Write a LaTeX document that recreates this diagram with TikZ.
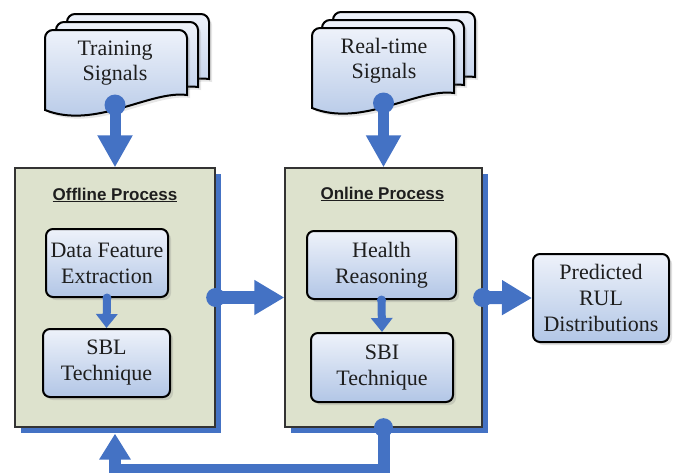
\documentclass[tikz,border=0pt]{standalone}
\usepackage{fontspec}
\setmainfont{Liberation Serif}
\newfontfamily\hdfont{Liberation Sans}
\usetikzlibrary{arrows.meta,shadows}
\definecolor{arrblue}{RGB}{68,114,196}
\definecolor{procfill}{RGB}{221,226,205}
\definecolor{boxtop}{RGB}{238,242,250}
\definecolor{boxbot}{RGB}{178,198,230}
\definecolor{txt}{RGB}{30,30,30}
\tikzset{
  proc/.style={draw=black!80, line width=1.3pt, fill=procfill,
    general shadow={fill=arrblue, shadow xshift=6pt, shadow yshift=-6pt}},
  ibox/.style={draw=black, line width=2pt, rounded corners=7pt,
    top color=boxtop, bottom color=boxbot,
    drop shadow={opacity=0.25, shadow xshift=3pt, shadow yshift=-3pt},
    align=center, text=txt, font=\fontsize{22}{26}\selectfont, inner sep=0pt},
  doctext/.style={align=center, text=txt, font=\fontsize{22}{25}\selectfont, inner sep=0pt},
  title/.style={text=txt, font=\hdfont\bfseries\fontsize{17}{20}\selectfont},
  docpath/.style={draw=black, line width=2pt, top color=boxtop, bottom color=boxbot,
    drop shadow={opacity=0.2, shadow xshift=3pt, shadow yshift=-3pt}},
  bigarrow/.style={draw=arrblue, line width=13pt, -{Triangle[length=30pt,width=33pt]}},
  smallarrow/.style={draw=arrblue, line width=8pt, -{Triangle[length=14pt,width=21pt]}},
  doc/.pic={
    \path[docpath] (0,80) -- (0,8) .. controls (0,3.6) and (3.6,0) .. (8,0)
      -- (134,0) .. controls (138.4,0) and (142,3.6) .. (142,8)
      -- (142,65) .. controls (105,60) and (50,100) .. (0,80) -- cycle;
  }
}
\begin{document}
\begin{tikzpicture}[x=1pt,y=-1pt]
\useasboundingbox (0,0) rectangle (674,472);

% documents
\pic at (67,14) {doc};
\pic at (56,22) {doc};
\pic at (45,30) {doc};
\pic at (333,12) {doc};
\pic at (322,20) {doc};
\pic at (312,28) {doc};
\node[doctext] (train) at (115,63) {Training\\Signals};
\node[doctext] (rt) at (384,61) {Real-time\\Signals};
\coordinate (trainout) at (115,105);
\coordinate (rtout) at (383.5,103);

% process boxes
\node[proc, minimum width=200pt, minimum height=259pt, inner sep=0pt] (off) at (115,297.5) {};
\node[proc, minimum width=197pt, minimum height=259pt, inner sep=0pt] (on) at (383.5,297.5) {};
\node[title] (offt) at (115,195) {\underline{Offline Process}};
\node[title] (ont) at (382.5,194) {\underline{Online Process}};

% inner boxes
\node[ibox, minimum width=122pt, minimum height=68pt] (dfe) at (107,263) {Data Feature\\Extraction};
\node[ibox, minimum width=127pt, minimum height=68pt] (sbl) at (106.5,363) {SBL\\Technique};
\node[ibox, minimum width=149pt, minimum height=68pt] (hr) at (381.5,265) {Health\\Reasoning};
\node[ibox, minimum width=142pt, minimum height=69pt] (sbi) at (382,367.5) {SBI\\Technique};
\node[ibox, minimum width=136pt, minimum height=88pt] (pred) at (601,298) {Predicted\\RUL\\Distributions};

% arrows
\fill[arrblue] (trainout) circle (10.5);
\draw[draw=arrblue, line width=11pt, -{Triangle[length=32pt,width=33pt]}] (trainout) -- (off.north);
\fill[arrblue] (rtout) circle (10.5);
\draw[draw=arrblue, line width=11pt, -{Triangle[length=32pt,width=33pt]}] (rtout) -- (on.north);

\fill[arrblue] (off.east) circle (9.5);
\draw[bigarrow] (off.east) -- (on.west);
\fill[arrblue] (on.east) circle (9.5);
\draw[bigarrow] (on.east) -- (pred.west);

\fill[arrblue] (dfe.south) circle (4.5);
\draw[smallarrow] (dfe.south) -- (sbl.north);
\fill[arrblue] (hr.south) circle (4.5);
\draw[smallarrow] (hr.south) -- (sbi.north);

\fill[arrblue] (on.south) circle (9.5);
\draw[draw=arrblue, line width=12pt, -{Triangle[length=26pt,width=30pt]}, shorten >=6pt]
  (on.south) -- ++(0,42) -| (off.south);
\end{tikzpicture}
\end{document}
